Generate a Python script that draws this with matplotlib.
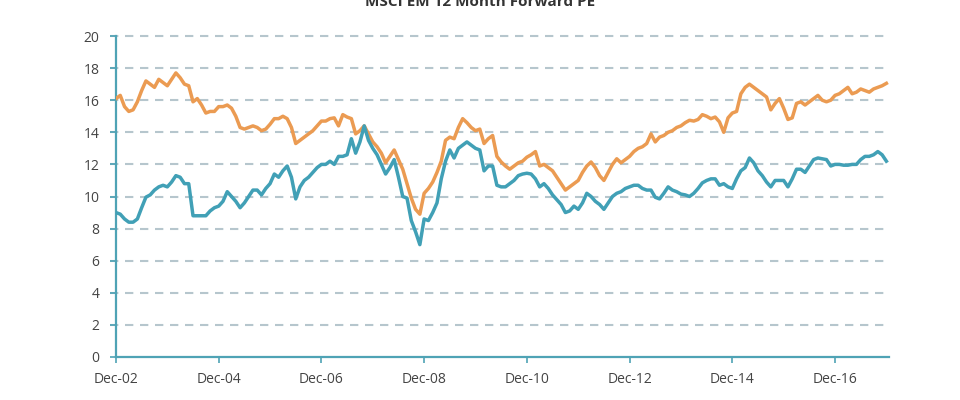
import numpy as np
import matplotlib
matplotlib.use('Agg')
import matplotlib.pyplot as plt

# Monthly readings, Dec-02 .. Dec-17 (month index 0 = Dec-02)
TITLE = 'MSCI EM 12 Month Forward PE'
tick_months = [0, 24, 48, 72, 96, 120, 144, 168]
tick_labels = ['Dec-02', 'Dec-04', 'Dec-06', 'Dec-08', 'Dec-10', 'Dec-12', 'Dec-14', 'Dec-16']

orange_pe = [
    16.1, 16.3, 15.6, 15.3, 15.4, 15.9, 16.6, 17.2, 17.0, 16.8,
    17.3, 17.1, 16.9, 17.3, 17.7, 17.4, 17.0, 16.9, 15.9, 16.1,
    15.7, 15.2, 15.3, 15.3, 15.6, 15.6, 15.7, 15.5, 15.0, 14.3,
    14.2, 14.3, 14.4, 14.3, 14.1, 14.2, 14.5, 14.85, 14.85, 15.0,
    14.85, 14.3, 13.3, 13.5, 13.7, 13.9, 14.1, 14.4, 14.7, 14.7,
    14.85, 14.9, 14.4, 15.1, 14.95, 14.85, 13.9, 14.1, 14.4, 13.9,
    13.4, 13.1, 12.7, 12.1, 12.5, 12.9, 12.3, 11.7, 10.8, 9.9,
    9.2, 8.9, 10.2, 10.5, 10.9, 11.5, 12.2, 13.5, 13.7, 13.6,
    14.3, 14.85, 14.6, 14.3, 14.1, 14.2, 13.3, 13.6, 13.8, 12.5,
    12.15, 11.9, 11.7, 11.9, 12.1, 12.2, 12.45, 12.6, 12.8, 11.9,
    12.0, 11.8, 11.6, 11.2, 10.8, 10.4, 10.6, 10.8, 11.0, 11.5,
    11.9, 12.15, 11.8, 11.3, 11.0, 11.5, 12.0, 12.35, 12.1, 12.3,
    12.5, 12.8, 13.0, 13.1, 13.3, 13.9, 13.4, 13.7, 13.8, 14.0,
    14.1, 14.3, 14.4, 14.6, 14.75, 14.7, 14.8, 15.1, 15.0, 14.85,
    14.95, 14.65, 14.0, 14.9, 15.2, 15.3, 16.4, 16.8, 17.0, 16.8,
    16.6, 16.4, 16.2, 15.4, 15.8, 16.1, 15.5, 14.8, 14.9, 15.8,
    15.9, 15.7, 15.9, 16.1, 16.3, 16.0, 15.9, 16.0, 16.3, 16.4,
    16.6, 16.8, 16.4, 16.5, 16.7, 16.6, 16.5, 16.7, 16.8, 16.9,
    17.05,
]

blue_pe = [
    9.0, 8.9, 8.6, 8.4, 8.4, 8.6, 9.3, 9.96, 10.1, 10.4,
    10.6, 10.7, 10.6, 10.9, 11.3, 11.2, 10.8, 10.8, 8.8, 8.8,
    8.8, 8.8, 9.1, 9.3, 9.4, 9.7, 10.3, 10.0, 9.7, 9.3,
    9.6, 10.0, 10.4, 10.4, 10.1, 10.5, 10.8, 11.4, 11.2, 11.6,
    11.9, 11.2, 9.85, 10.6, 11.0, 11.2, 11.5, 11.8, 12.0, 12.0,
    12.2, 12.0, 12.5, 12.5, 12.6, 13.6, 12.7, 13.4, 14.4, 13.5,
    13.0, 12.6, 12.0, 11.4, 11.8, 12.3, 11.2, 10.0, 9.9, 8.5,
    7.8, 7.0, 8.6, 8.5, 9.0, 9.6, 11.1, 12.2, 12.9, 12.4,
    13.0, 13.2, 13.4, 13.2, 13.0, 12.9, 11.6, 11.9, 11.9, 10.7,
    10.6, 10.6, 10.8, 11.0, 11.3, 11.4, 11.45, 11.4, 11.1, 10.6,
    10.8, 10.5, 10.1, 9.8, 9.5, 9.0, 9.1, 9.4, 9.2, 9.6,
    10.2, 10.0, 9.7, 9.5, 9.2, 9.6, 10.0, 10.2, 10.3, 10.5,
    10.6, 10.7, 10.7, 10.5, 10.4, 10.4, 9.95, 9.85, 10.2, 10.6,
    10.4, 10.3, 10.15, 10.1, 10.0, 10.2, 10.5, 10.85, 11.0, 11.1,
    11.1, 10.7, 10.8, 10.6, 10.5, 11.1, 11.6, 11.8, 12.4, 12.1,
    11.6, 11.3, 10.9, 10.6, 11.0, 11.0, 11.0, 10.6, 11.1, 11.7,
    11.7, 11.5, 11.9, 12.3, 12.4, 12.35, 12.3, 11.9, 12.0, 12.0,
    11.95, 11.95, 12.0, 12.0, 12.3, 12.5, 12.5, 12.6, 12.8, 12.6,
    12.2,
]

months = np.arange(len(orange_pe))

plt.rcParams['font.family'] = ['Open Sans', 'DejaVu Sans']

fig = plt.figure(figsize=(9.6, 4.0), dpi=100)
ax = fig.add_axes([0.1208, 0.1075, 0.8052, 0.8025])

axis_col = '#4fa3b5'
grid_col = '#b6c6cd'

for v in range(2, 21, 2):
    ax.axhline(v, xmin=-0.008, xmax=1.0, color=grid_col, lw=1.5,
               dashes=(4, 3.2), clip_on=False, zorder=1)

ax.plot(months, orange_pe, color='#eb9b52', lw=2.5, solid_joinstyle='round', zorder=3)
ax.plot(months, blue_pe, color='#41a0b6', lw=2.5, solid_joinstyle='round', zorder=3)

ax.set_xlim(0, 180.6)
ax.set_ylim(0, 20)
ax.set_yticks(range(0, 21, 2))
ax.set_xticks(tick_months)
ax.set_xticklabels(tick_labels)

for side in ['top', 'right']:
    ax.spines[side].set_visible(False)
for side in ['left', 'bottom']:
    ax.spines[side].set_color(axis_col)
    ax.spines[side].set_linewidth(1.6)

ax.tick_params(axis='x', colors=axis_col, length=4, width=1.2, labelcolor='#444444',
               labelsize=10, pad=7)
ax.tick_params(axis='y', colors=axis_col, length=4, width=1.2, labelcolor='#444444',
               labelsize=10, pad=8)

# title is clipped at the top edge, as in the source image
fig.text(0.5, 0.984, TITLE, ha='center', va='baseline', fontsize=11,
         fontweight='bold', color='#333333')

fig.savefig('out.png', dpi=100)
